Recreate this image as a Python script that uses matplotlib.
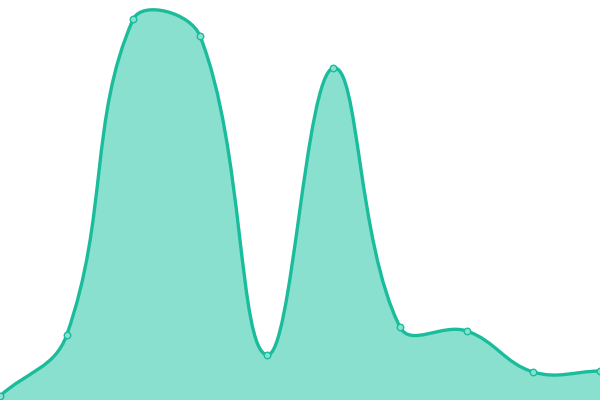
import numpy as np
import matplotlib
matplotlib.use('agg')
from matplotlib import pyplot as plt
from matplotlib.path import Path
from matplotlib.patches import PathPatch

# one sample every step along x, values as heights above the baseline
x_vals = [0, 66.7, 133.3, 200, 266.7, 333.3, 400, 466.7, 533.3, 600]
y_vals = [4, 65, 381, 364, 45, 332, 73, 69, 28, 29]

LINE = '#1abc9c'
FILL = '#8ae0cf'
TENSION = 0.4
W, H = 600, 400  # axes limits equal the pixel size, so distances are in px


def spline_controls(xs, ys, t=TENSION):
    """Control points like a tension spline (neighbour-distance weighted)."""
    n = len(xs)
    ctrl = []
    for i in range(n):
        pv = (xs[max(i - 1, 0)], ys[max(i - 1, 0)])
        cur = (xs[i], ys[i])
        nx = (xs[min(i + 1, n - 1)], ys[min(i + 1, n - 1)])
        d01 = np.hypot(cur[0] - pv[0], cur[1] - pv[1])
        d12 = np.hypot(nx[0] - cur[0], nx[1] - cur[1])
        tot = d01 + d12
        s01 = d01 / tot if tot else 0
        s12 = d12 / tot if tot else 0
        fa, fb = t * s01, t * s12
        before = (cur[0] - fa * (nx[0] - pv[0]), cur[1] - fa * (nx[1] - pv[1]))
        after = (cur[0] + fb * (nx[0] - pv[0]), cur[1] + fb * (nx[1] - pv[1]))
        cap = lambda p: (min(max(p[0], 0), W), min(max(p[1], 0), H))
        ctrl.append((cap(before), cap(after)))
    return ctrl


xs = np.array(x_vals, dtype=float)
ys = np.array(y_vals, dtype=float)
ctrl = spline_controls(xs, ys)

verts = [(xs[0], ys[0])]
codes = [Path.MOVETO]
for i in range(1, len(xs)):
    verts += [ctrl[i - 1][1], ctrl[i][0], (xs[i], ys[i])]
    codes += [Path.CURVE4] * 3
line_path = Path(verts, codes)
fill_path = Path(verts + [(xs[-1], 0), (xs[0], 0), (xs[0], ys[0])],
                 codes + [Path.LINETO, Path.LINETO, Path.CLOSEPOLY])

fig = plt.figure(figsize=(6, 4), dpi=100)
ax = fig.add_axes([0, 0, 1, 1])
ax.add_patch(PathPatch(fill_path, facecolor=FILL, lw=0))
ax.add_patch(PathPatch(line_path, facecolor='none', edgecolor=LINE, lw=2.4))
ax.scatter(xs, ys, s=22, facecolor=FILL, edgecolor=LINE, linewidth=1, zorder=3,
           clip_on=False)
ax.set_xlim(0, W)
ax.set_ylim(0, H)
ax.axis('off')
fig.savefig('out.png', dpi=100)
